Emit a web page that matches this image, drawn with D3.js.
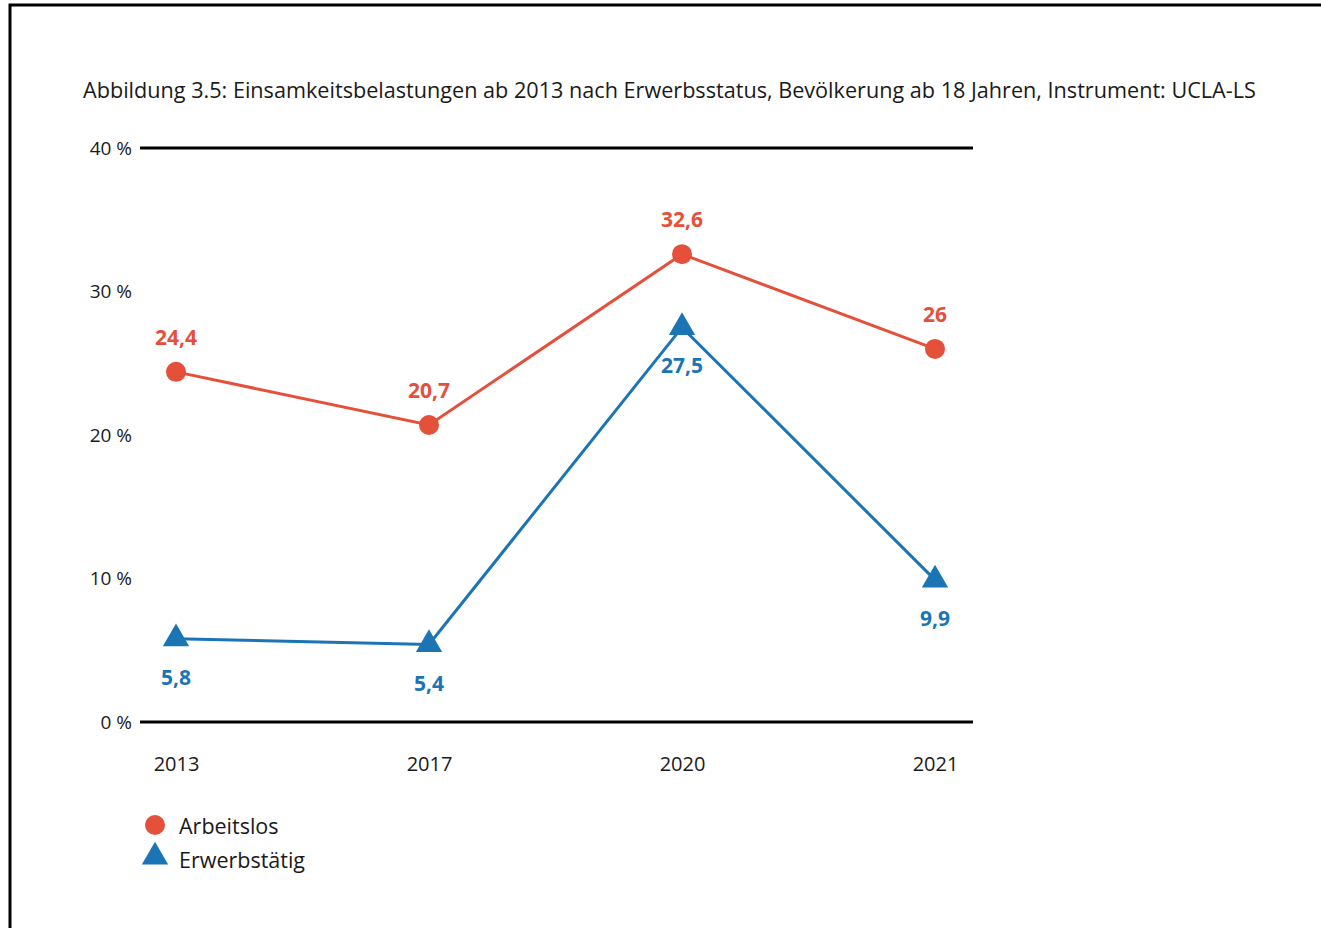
<!DOCTYPE html>
<html><head><meta charset="utf-8">
<script src="https://cdn.jsdelivr.net/npm/d3@7"></script>
<style>html,body{margin:0;padding:0;background:#fff;}svg{display:block;}</style>
</head><body>
<script>
const titleText = "Abbildung 3.5: Einsamkeitsbelastungen ab 2013 nach Erwerbsstatus, Bevölkerung ab 18 Jahren, Instrument: UCLA-LS";
const years = ["2013", "2017", "2020", "2021"];
const arbeitslos = [24.4, 20.7, 32.6, 26];
const erwerbstaetig = [5.8, 5.4, 27.5, 9.9];
const seriesNames = ["Arbeitslos", "Erwerbstätig"];
const yTicks = [0, 10, 20, 30, 40];

const W = 1321, H = 928;
const RED = "#e5503b", BLUE = "#1b75b5";
const FONT = "'Open Sans', sans-serif";
const fmt = v => String(v).replace(".", ",");

const svg = d3.select("body").append("svg").attr("width", W).attr("height", H);
svg.append("rect").attr("width", W).attr("height", H).attr("fill", "#fff");
// frame
svg.append("rect").attr("x", 10).attr("y", 5).attr("width", W + 20).attr("height", H + 20)
  .attr("fill", "none").attr("stroke", "#000").attr("stroke-width", 3);

const x = d3.scalePoint().domain(years).range([176, 935]);
const y = d3.scaleLinear().domain([0, 40]).range([722, 148]);

// title
const t = svg.append("text").attr("x", 83).attr("y", 98).attr("font-family", FONT)
  .attr("font-size", 20).attr("fill", "#1a1a1a").text(titleText);
const tl = t.node().getComputedTextLength();
t.attr("font-size", 20 * 1174 / tl);

// y axis labels and lines at 0 and 40
const yAxis = d3.axisLeft(y).tickValues(yTicks).tickSize(0).tickPadding(8).tickFormat(d => d + " %");
const ga = svg.append("g").attr("transform", "translate(140,0)").call(yAxis);
ga.select(".domain").remove();
ga.selectAll("text").attr("font-family", FONT).attr("font-size", 19).attr("fill", "#1a1a1a");

svg.selectAll("line.grid").data([0, 40]).join("line").attr("class", "grid")
  .attr("x1", 140).attr("x2", 973).attr("y1", d => y(d)).attr("y2", d => y(d))
  .attr("stroke", "#000").attr("stroke-width", 3);

// x axis labels
const xAxis = d3.axisBottom(x).tickSize(0).tickPadding(0);
const gx = svg.append("g").attr("transform", "translate(0,757)").call(xAxis);
gx.select(".domain").remove();
gx.selectAll("text").attr("font-family", FONT).attr("font-size", 20).attr("fill", "#1a1a1a");

const line = d3.line().x((d, i) => x(years[i])).y(d => y(d));

// red series
svg.append("path").datum(arbeitslos).attr("d", line).attr("fill", "none")
  .attr("stroke", RED).attr("stroke-width", 3);
svg.selectAll("circle.a").data(arbeitslos).join("circle").attr("class", "a")
  .attr("cx", (d, i) => x(years[i])).attr("cy", d => y(d)).attr("r", 10).attr("fill", RED);
svg.selectAll("text.a").data(arbeitslos).join("text").attr("class", "a")
  .attr("x", (d, i) => x(years[i])).attr("y", d => y(d) - 27)
  .attr("text-anchor", "middle").attr("font-family", FONT).attr("font-weight", 700)
  .attr("font-size", 21).attr("fill", RED).text(d => fmt(d));

// blue series
const tri = d3.symbol().type(d3.symbolTriangle).size(300);
svg.append("path").datum(erwerbstaetig).attr("d", line).attr("fill", "none")
  .attr("stroke", BLUE).attr("stroke-width", 3);
svg.selectAll("path.e").data(erwerbstaetig).join("path").attr("class", "e")
  .attr("transform", (d, i) => `translate(${x(years[i])},${y(d)})`).attr("d", tri).attr("fill", BLUE);
svg.selectAll("text.e").data(erwerbstaetig).join("text").attr("class", "e")
  .attr("x", (d, i) => x(years[i])).attr("y", d => y(d) + 46)
  .attr("text-anchor", "middle").attr("font-family", FONT).attr("font-weight", 700)
  .attr("font-size", 21).attr("fill", BLUE).text(d => fmt(d));

// legend
const lg = svg.append("g");
lg.append("circle").attr("cx", 155).attr("cy", 825).attr("r", 10).attr("fill", RED);
lg.append("path").attr("transform", "translate(155,857)").attr("d", tri).attr("fill", BLUE);
lg.selectAll("text").data(seriesNames).join("text")
  .attr("x", 179).attr("y", (d, i) => 834 + i * 34)
  .attr("font-family", FONT).attr("font-size", 21.5).attr("fill", "#1a1a1a").text(d => d);
</script>
</body></html>
